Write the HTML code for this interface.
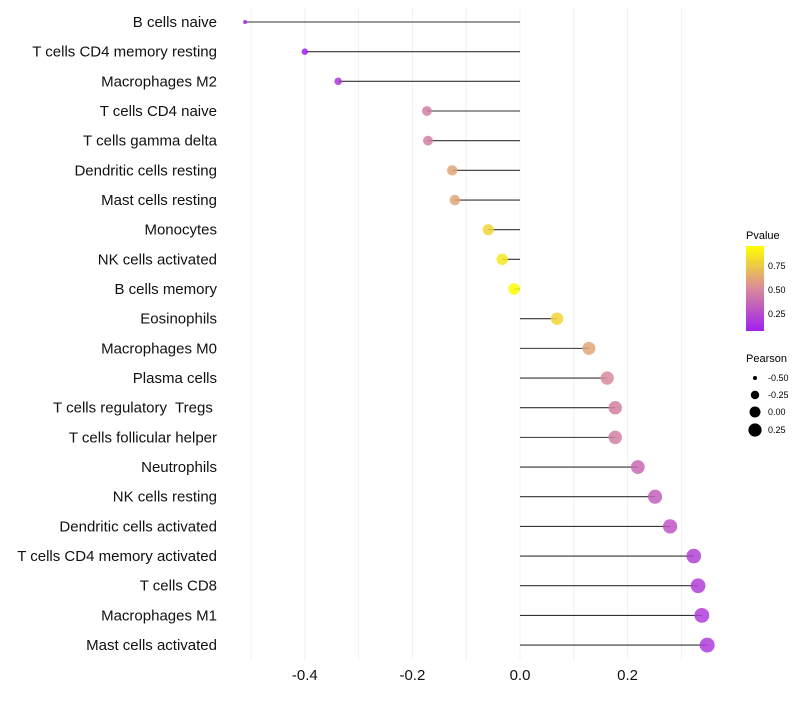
<!DOCTYPE html>
<html><head><meta charset="utf-8"><style>
body{margin:0;background:#fff;font-family:"Liberation Sans",sans-serif}
svg text{font-family:"Liberation Sans",sans-serif;white-space:pre}
</style></head><body>
<svg id="chart" width="800" height="700" xmlns="http://www.w3.org/2000/svg">
<defs><linearGradient id="pg" x1="0" y1="1" x2="0" y2="0">
<stop offset="0" stop-color="#A020F0"/><stop offset="0.5" stop-color="#D98A9A"/><stop offset="1" stop-color="#FFFF00"/></linearGradient></defs>
<g id="grid"></g>
<g id="marks"></g>
<g id="ylabels"></g>
<g id="xlabels"></g>
<g>
<text x="746" y="239" font-size="11">Pvalue</text>
<rect x="746" y="246" width="18" height="85" fill="url(#pg)"/>
<text x="768" y="269" font-size="9">0.75</text>
<text x="768" y="293" font-size="9">0.50</text>
<text x="768" y="317" font-size="9">0.25</text>
</g>
<g>
<text x="746" y="362" font-size="11">Pearson</text>
<circle cx="755" cy="378" r="2" fill="#000"/><text x="768" y="381" font-size="9">-0.50</text>
<circle cx="755" cy="395" r="4.2" fill="#000"/><text x="768" y="398" font-size="9">-0.25</text>
<circle cx="755" cy="412" r="5.5" fill="#000"/><text x="768" y="415" font-size="9">0.00</text>
<circle cx="755" cy="430" r="6.6" fill="#000"/><text x="768" y="433" font-size="9">0.25</text>
</g>
</svg>
<script>
const categories=["B cells naive","T cells CD4 memory resting","Macrophages M2","T cells CD4 naive","T cells gamma delta","Dendritic cells resting","Mast cells resting","Monocytes","NK cells activated","B cells memory","Eosinophils","Macrophages M0","Plasma cells","T cells regulatory  Tregs ","T cells follicular helper","Neutrophils","NK cells resting","Dendritic cells activated","T cells CD4 memory activated","T cells CD8","Macrophages M1","Mast cells activated"];
const pearson=[-0.511,-0.40,-0.338,-0.173,-0.171,-0.126,-0.121,-0.059,-0.033,-0.011,0.069,0.128,0.162,0.177,0.177,0.219,0.251,0.279,0.323,0.331,0.338,0.348];
const pvalue=[0.01,0.03,0.12,0.45,0.45,0.62,0.62,0.82,0.9,0.99,0.82,0.62,0.5,0.45,0.45,0.35,0.3,0.25,0.16,0.15,0.14,0.13];
const xTicks=[-0.4,-0.2,0.0,0.2];
const xTickLabels=["-0.4","-0.2","0.0","0.2"];
const NS="http://www.w3.org/2000/svg";
const X=v=>520+v*538;
const Y=i=>22+i*29.67;
const R=v=>Math.sqrt(Math.max(1,4+60*(v+0.51)));
function lerp(a,b,t){return a.map((c,k)=>Math.round(c+(b[k]-c)*t));}
function col(p){const lo=[160,32,240],mid=[217,138,154],hi=[255,255,0];
 const c=p<0.5?lerp(lo,mid,p/0.5):lerp(mid,hi,(p-0.5)/0.5);return `rgb(${c})`;}
function mk(t,a,parent){const e=document.createElementNS(NS,t);for(const k in a)e.setAttribute(k,a[k]);document.getElementById(parent).appendChild(e);return e;}
for(let v=-0.5;v<=0.31;v+=0.1){
 const g=mk('line',{x1:X(v),x2:X(v),y1:8,y2:660,stroke:'#f0f0f0','stroke-width':1},'grid');
 
 
}
xTicks.forEach((t,i)=>{
 const e=mk('text',{x:X(t),y:680,'font-size':15,'text-anchor':'middle',fill:'#111'},'xlabels');
 e.textContent=xTickLabels[i];
 
 
});
categories.forEach((c,i)=>{
 const y=Y(i);
 const t=mk('text',{x:217,y:y+5,'font-size':15,'text-anchor':'end',fill:'#111'},'ylabels');
 t.textContent=c;
 
 
 const l=mk('line',{x1:X(0),x2:X(pearson[i]),y1:y,y2:y,stroke:'#000','stroke-width':1.1,'stroke-opacity':0.8},'marks');
 
 
 const p=mk('circle',{cx:X(pearson[i]),cy:y,r:R(pearson[i]),fill:col(pvalue[i]),'fill-opacity':0.85},'marks');
 
 
});
</script>
</body></html>
